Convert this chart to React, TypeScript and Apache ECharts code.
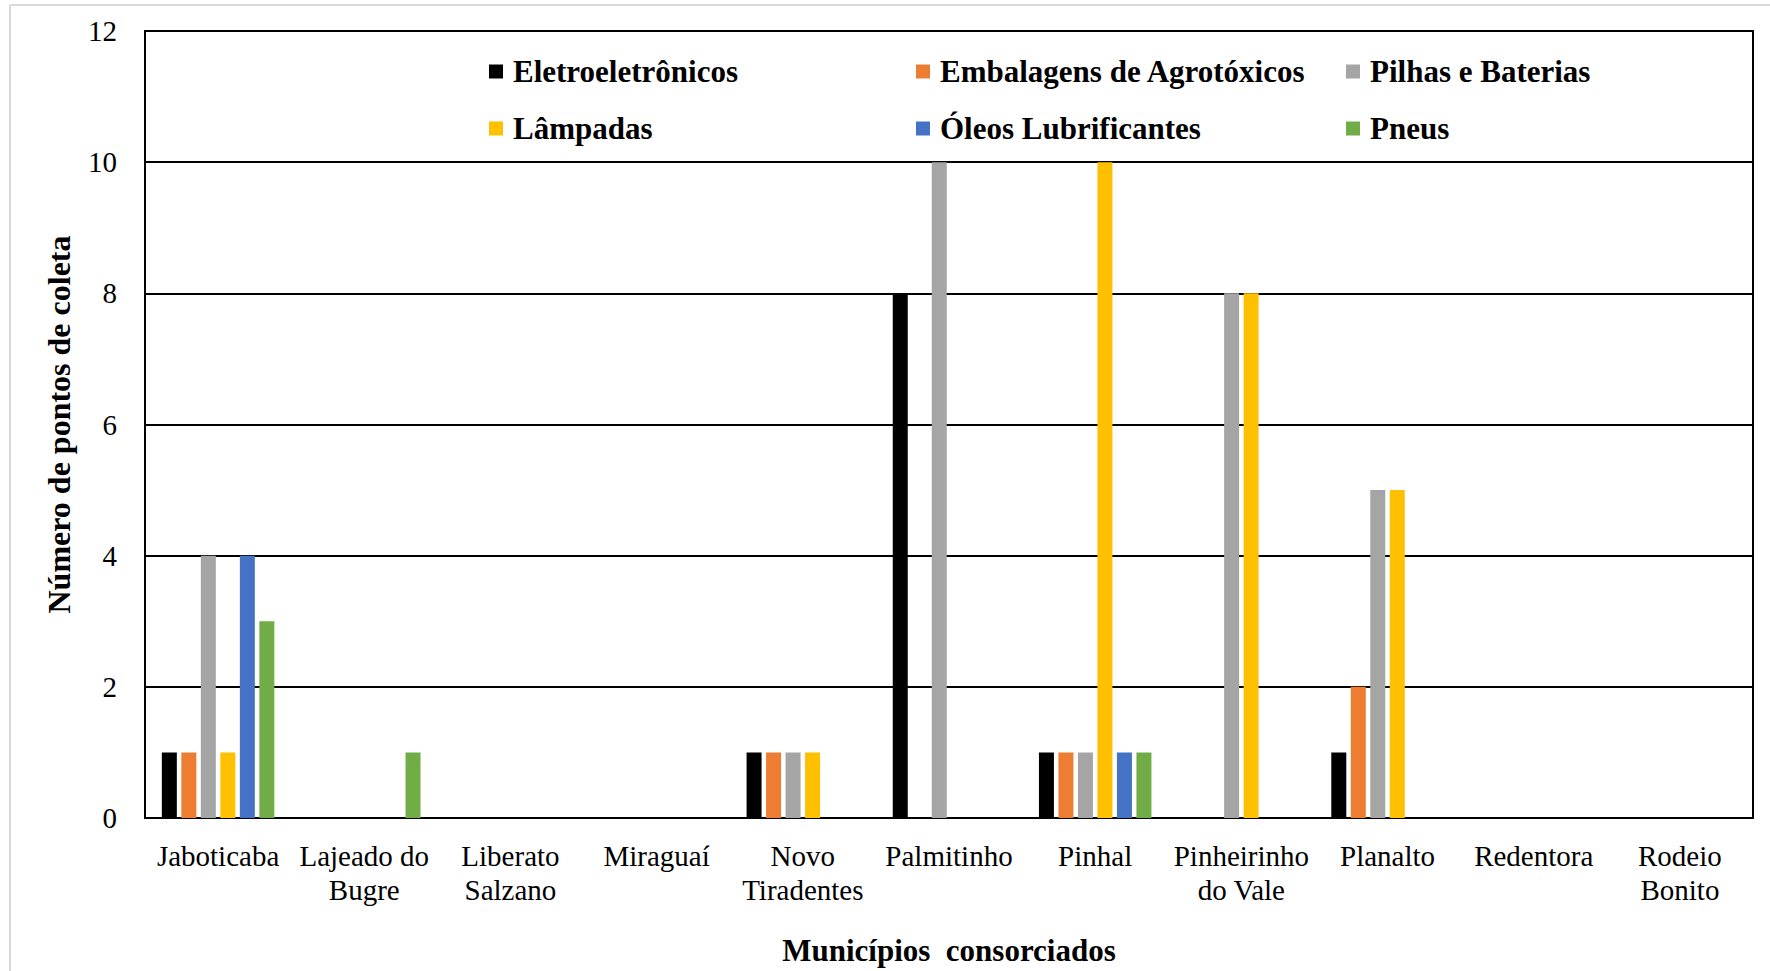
import React, { useEffect, useRef } from "react";
import * as echarts from "echarts";

const categories = [
  "Jaboticaba",
  "Lajeado do\nBugre",
  "Liberato\nSalzano",
  "Miraguaí",
  "Novo\nTiradentes",
  "Palmitinho",
  "Pinhal",
  "Pinheirinho\ndo Vale",
  "Planalto",
  "Redentora",
  "Rodeio\nBonito",
];

const seriesNames = [
  "Eletroeletrônicos",
  "Embalagens de Agrotóxicos",
  "Pilhas e Baterias",
  "Lâmpadas",
  "Óleos Lubrificantes",
  "Pneus",
];

const eletroeletronicos = [1, 0, 0, 0, 1, 8, 1, 0, 1, 0, 0];
const embalagens = [1, 0, 0, 0, 1, 0, 1, 0, 2, 0, 0];
const pilhas = [4, 0, 0, 0, 1, 10, 1, 8, 5, 0, 0];
const lampadas = [1, 0, 0, 0, 1, 0, 10, 8, 5, 0, 0];
const oleos = [4, 0, 0, 0, 0, 0, 1, 0, 0, 0, 0];
const pneus = [3, 1, 0, 0, 0, 0, 1, 0, 0, 0, 0];

const seriesValues = [eletroeletronicos, embalagens, pilhas, lampadas, oleos, pneus];
const colors = ["#000000", "#ED7D31", "#A5A5A5", "#FFC000", "#4472C4", "#70AD47"];

const yTicks = { min: 0, max: 12, interval: 2 };

const FONT = "'Liberation Serif', 'Times New Roman', serif";

export default function App() {
  const ref = useRef<HTMLDivElement>(null);
  useEffect(() => {
    if (!ref.current) return;
    const chart = echarts.init(ref.current, null, { renderer: "svg" });
    const legendCols = [
      { left: 484, names: [seriesNames[0], seriesNames[3]] },
      { left: 911, names: [seriesNames[1], seriesNames[4]] },
      { left: 1341, names: [seriesNames[2], seriesNames[5]] },
    ];
    chart.setOption({
      animation: false,
      backgroundColor: "#ffffff",
      textStyle: { fontFamily: FONT },
      grid: {
        left: 145,
        right: 17,
        top: 31,
        bottom: 152,
        show: true,
        borderColor: "#000",
        borderWidth: 2,
        backgroundColor: "transparent",
        containLabel: false,
      },
      legend: legendCols.map((c) => ({
        data: c.names,
        orient: "vertical",
        left: c.left,
        top: 51,
        itemWidth: 14,
        itemHeight: 14,
        itemGap: 26,
        icon: "rect",
        selectedMode: false,
        textStyle: {
          fontFamily: FONT,
          fontWeight: "bold",
          fontSize: 31,
          lineHeight: 30,
          color: "#000",
          padding: [0, 0, 0, 5],
        },
      })),
      xAxis: {
        type: "category",
        data: categories,
        name: "Municípios  consorciados",
        nameLocation: "middle",
        nameGap: 117,
        nameTextStyle: {
          fontFamily: FONT,
          fontWeight: "bold",
          fontSize: 31,
          color: "#000",
        },
        axisLine: { show: true, lineStyle: { color: "#000", width: 2 } },
        axisTick: { show: false },
        axisLabel: {
          interval: 0,
          margin: 21,
          fontFamily: FONT,
          fontSize: 29,
          lineHeight: 34,
          color: "#000",
        },
      },
      yAxis: {
        type: "value",
        min: yTicks.min,
        max: yTicks.max,
        interval: yTicks.interval,
        name: "Número de pontos de coleta",
        nameLocation: "middle",
        nameGap: 70,
        nameTextStyle: {
          fontFamily: FONT,
          fontWeight: "bold",
          fontSize: 32,
          color: "#000",
        },
        axisLine: { show: true, lineStyle: { color: "#000", width: 2 } },
        axisTick: { show: false },
        splitLine: { show: true, lineStyle: { color: "#000", width: 2 } },
        axisLabel: {
          margin: 28,
          fontFamily: FONT,
          fontSize: 29,
          color: "#000",
        },
      },
      series: seriesNames.map((name, i) => ({
        name,
        type: "bar",
        data: seriesValues[i],
        barWidth: 15,
        barGap: "30%",
        itemStyle: { color: colors[i] },
      })),
      graphic: [
        {
          type: "line",
          shape: { x1: 10, y1: 5, x2: 1770, y2: 5 },
          style: { stroke: "#d9d9d9", lineWidth: 2 },
          silent: true,
        },
        {
          type: "line",
          shape: { x1: 10, y1: 5, x2: 10, y2: 971 },
          style: { stroke: "#d9d9d9", lineWidth: 2 },
          silent: true,
        },
      ],
    });
    return () => chart.dispose();
  }, []);
  return (
    <div
      ref={ref}
      style={{ position: "fixed", left: 0, top: 0, width: 1770, height: 971, background: "#fff" }}
    />
  );
}
